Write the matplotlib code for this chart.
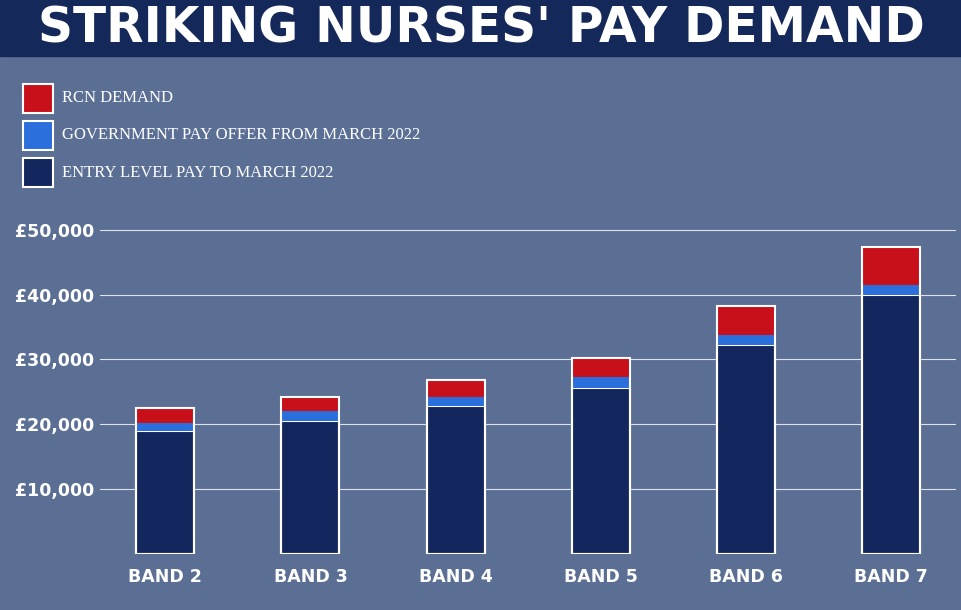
import matplotlib.pyplot as plt
from matplotlib.patches import Rectangle

bands = ["BAND 2", "BAND 3", "BAND 4", "BAND 5", "BAND 6", "BAND 7"]
entry_pay = [18900, 20450, 22750, 25550, 32300, 40000]
gov_offer = [20150, 22000, 24150, 27250, 33850, 41550]
rcn_demand = [22450, 24150, 26900, 30300, 38300, 47400]

navy = "#14265e"
blue = "#2a6fdc"
red = "#c8101a"

fig = plt.figure(figsize=(9.62, 6.10), dpi=100)
fig.patch.set_facecolor("#5b6f95")

# title bar
fig.add_artist(Rectangle((0, 0.908), 1, 0.092, transform=fig.transFigure, color="#15285a", zorder=0))
fig.text(0.5, 0.954, "STRIKING NURSES' PAY DEMAND", ha="center", va="center",
         color="white", fontsize=35, fontweight="bold", family="DejaVu Sans")

ax = fig.add_axes([0.104, 0.092, 0.89, 0.58])
ax.set_facecolor("none")
x = range(len(bands))
w = 0.4
ax.bar(x, entry_pay, w, color=navy, edgecolor="white", linewidth=1.5, zorder=3)
ax.bar(x, [g - e for g, e in zip(gov_offer, entry_pay)], w, bottom=entry_pay,
       color=blue, edgecolor="none", zorder=3)
ax.bar(x, [r - g for r, g in zip(rcn_demand, gov_offer)], w, bottom=gov_offer,
       color=red, edgecolor="none", zorder=3)
ax.bar(x, rcn_demand, w, color="none", edgecolor="white", linewidth=1.5, zorder=4)

ax.set_ylim(0, 54600)
ax.set_xlim(-0.45, 5.45)
ax.set_yticks([10000, 20000, 30000, 40000, 50000])
ax.set_yticklabels(["£10,000", "£20,000", "£30,000", "£40,000", "£50,000"])
ax.yaxis.grid(True, color="white", linewidth=0.8, alpha=0.8, zorder=1)
ax.set_xticks(list(x))
ax.set_xticklabels(bands)
for s in ax.spines.values():
    s.set_visible(False)
ax.tick_params(length=0, colors="white", labelsize=12.5, pad=10)
for t in ax.get_xticklabels() + ax.get_yticklabels():
    t.set_fontweight("bold")
ax.tick_params(axis="y", pad=4)

# legend
items = [(red, "RCN DEMAND"), (blue, "GOVERNMENT PAY OFFER FROM MARCH 2022"),
         (navy, "ENTRY LEVEL PAY TO MARCH 2022")]
for i, (c, lab) in enumerate(items):
    y = 0.815 - i * 0.061
    fig.add_artist(Rectangle((0.024, y), 0.031, 0.048, transform=fig.transFigure,
                             facecolor=c, edgecolor="white", linewidth=1.5))
    fig.text(0.064, y + 0.024, lab, color="white", fontsize=12, va="center",
             family="Liberation Serif")

fig.savefig("out.png", dpi=100, facecolor=fig.get_facecolor())
